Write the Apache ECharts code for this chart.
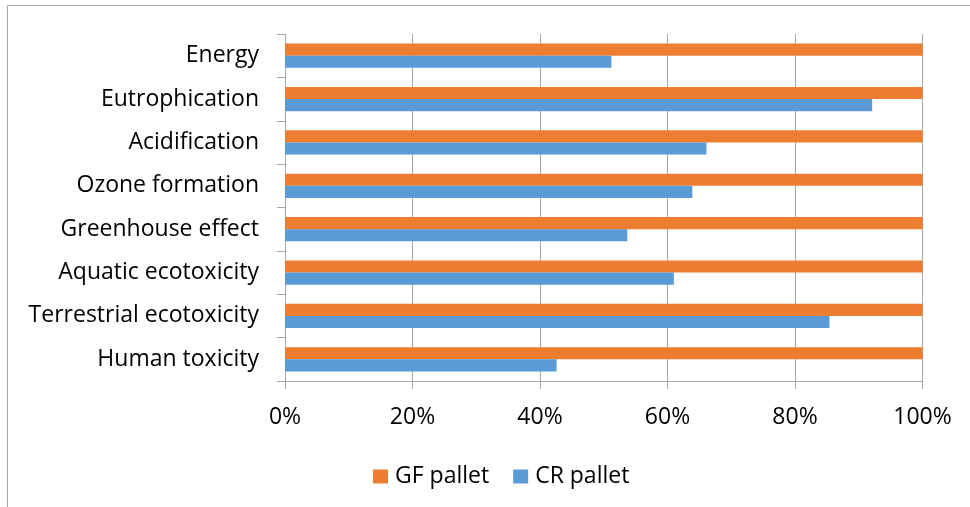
<!DOCTYPE html>
<html>
<head>
<meta charset="utf-8">
<script src="https://cdn.jsdelivr.net/npm/echarts@6/dist/echarts.min.js"></script>
<style>
  html, body { margin: 0; padding: 0; background: #fff; }
  #chart { width: 970px; height: 507px; }
</style>
</head>
<body>
<div id="chart"></div>
<script>
// categories, top to bottom
var categories = ['Energy', 'Eutrophication', 'Acidification', 'Ozone formation',
  'Greenhouse effect', 'Aquatic ecotoxicity', 'Terrestrial ecotoxicity', 'Human toxicity'];
var gfPallet = [100, 100, 100, 100, 100, 100, 100, 100];
var crPallet = [51.2, 92.1, 66.1, 63.9, 53.7, 61.0, 85.4, 42.6];
var xTicks = [0, 20, 40, 60, 80, 100];

var font = 'Open Sans';
var chart = echarts.init(document.getElementById('chart'));

var option = {
  animation: false,
  textStyle: { fontFamily: font },
  graphic: [{
    type: 'rect',
    shape: { x: 7.5, y: 5.5, width: 1000, height: 1000 },
    style: { fill: 'none', stroke: '#a6a6a6', lineWidth: 1 }
  }],
  grid: { left: 285, right: 47.5, top: 34, bottom: 126 },
  legend: {
    data: ['GF pallet', 'CR pallet'],
    left: 368,
    top: 460,
    itemWidth: 15,
    itemHeight: 14,
    itemGap: 24,
    icon: 'rect',
    textStyle: { fontSize: 23, color: '#000', fontFamily: font, padding: [0, 0, 0, 2] }
  },
  xAxis: {
    type: 'value',
    min: xTicks[0],
    max: xTicks[xTicks.length - 1],
    interval: 20,
    axisLine: { show: true, lineStyle: { color: '#a6a6a6' } },
    axisTick: { show: true, length: 8, lineStyle: { color: '#a6a6a6' } },
    splitLine: { show: true, lineStyle: { color: '#a6a6a6' } },
    axisLabel: {
      formatter: '{value}%',
      fontSize: 23,
      color: '#000',
      margin: 25
    }
  },
  yAxis: {
    type: 'category',
    inverse: true,
    data: categories,
    axisLine: { show: true, lineStyle: { color: '#a6a6a6' } },
    axisTick: { show: true, length: 8, lineStyle: { color: '#a6a6a6' } },
    axisLabel: { fontSize: 23, color: '#000', margin: 26 }
  },
  series: [
    {
      name: 'GF pallet',
      type: 'bar',
      data: gfPallet,
      itemStyle: { color: '#ED7D31' },
      barGap: '0%',
      barCategoryGap: '44%'
    },
    {
      name: 'CR pallet',
      type: 'bar',
      data: crPallet,
      itemStyle: { color: '#5B9BD5' },
      barGap: '0%',
      barCategoryGap: '44%'
    }
  ]
};
chart.setOption(option);
</script>
</body>
</html>
